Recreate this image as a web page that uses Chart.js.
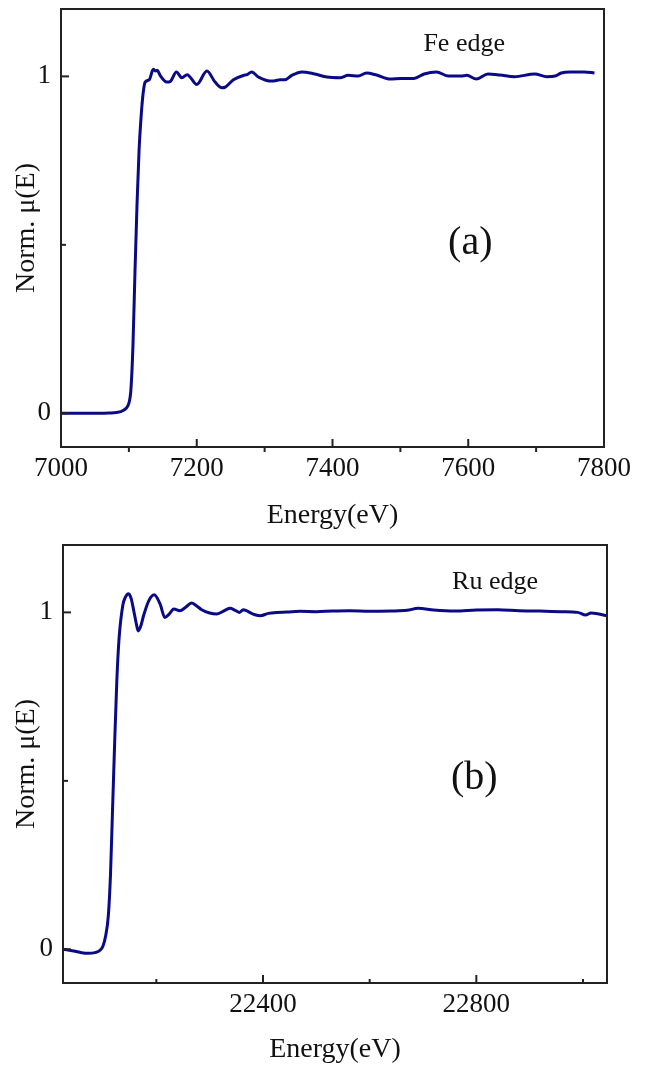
<!DOCTYPE html>
<html>
<head>
<meta charset="utf-8">
<script src="https://cdn.jsdelivr.net/npm/chart.js@4.4.1/dist/chart.umd.min.js"></script>
<style>
    body { margin: 0; background: #fff; }
    .panel { position: absolute; left: 0; }
</style>
</head>
<body>
<div class="panel" style="top:0"><canvas id="chartFe" width="647" height="530"></canvas></div>
<div class="panel" style="top:530px"><canvas id="chartRu" width="647" height="537"></canvas></div>
<script>
// Fe K-edge spectrum
const feEnergy = [7000, 7040, 7070, 7088, 7096, 7100, 7103, 7106, 7109, 7112, 7115, 7118, 7121,
    7124, 7130, 7136, 7139, 7142, 7146, 7156, 7161, 7170, 7178, 7186, 7191, 7200, 7215, 7227, 7237,
    7242, 7254, 7269, 7274, 7281, 7291, 7311, 7323, 7330, 7340, 7355, 7372, 7392, 7411, 7423, 7438,
    7450, 7465, 7485, 7501, 7520, 7535, 7553, 7571, 7589, 7598, 7612, 7629, 7647, 7668, 7698, 7716,
    7728, 7737, 7750, 7771, 7786];
const feMu = [0, 0, 0.001, 0.005, 0.015, 0.03, 0.07, 0.2, 0.42, 0.62, 0.78, 0.88, 0.95,
    0.983, 0.990, 1.021, 1.016, 1.018, 1.003, 0.983, 0.985, 1.013, 0.996, 1.005, 0.996, 0.976, 1.016, 0.983, 0.966,
    0.968, 0.990, 1.003, 1.005, 1.013, 0.998, 0.986, 0.990, 0.990, 1.003, 1.013, 1.008, 0.998, 0.996, 1.003, 1.001,
    1.010, 1.004, 0.992, 0.994, 0.994, 1.007, 1.013, 1.001, 1.001, 1.003, 0.992, 1.007, 1.004, 0.999, 1.007, 0.999,
    1.001, 1.010, 1.013, 1.013, 1.010];

// Ru K-edge spectrum
const ruEnergy = [22025, 22045, 22060, 22072, 22085, 22095, 22100, 22105, 22110, 22114, 22118, 22122,
    22126, 22130, 22137, 22142, 22148, 22153, 22157, 22162, 22166, 22171, 22176, 22186, 22196, 22207,
    22216, 22224, 22233, 22244, 22255, 22266, 22275, 22285, 22300, 22313, 22325, 22338, 22348, 22356,
    22363, 22369, 22375, 22385, 22395, 22410, 22425, 22445, 22469, 22500, 22530, 22562, 22600, 22640,
    22670, 22691, 22720, 22760, 22800, 22840, 22880, 22920, 22960, 22990, 23005, 23015, 23030, 23045];
const ruMu = [0, -0.005, -0.01, -0.012, -0.01, -0.002, 0.01, 0.04, 0.1, 0.22, 0.42, 0.62,
    0.8, 0.92, 1.02, 1.045, 1.055, 1.04, 1.01, 0.97, 0.945, 0.96, 0.99, 1.035, 1.052, 1.025,
    0.985, 0.995, 1.01, 1.005, 1.015, 1.028, 1.02, 1.008, 0.998, 0.995, 1.003, 1.012, 1.006, 1.0,
    1.008, 1.005, 1.0, 0.993, 0.99, 0.997, 1.0, 1.001, 1.003, 1.002, 1.004, 1.005, 1.003, 1.004,
    1.006, 1.012, 1.007, 1.004, 1.007, 1.008, 1.005, 1.004, 1.002, 1.0, 0.992, 0.998, 0.995, 0.99];

// tick values
const yLabelTicks = [0, 1];
const yMinorTicks = [0.5];
const feMajorTicks = [7000, 7200, 7400, 7600, 7800];
const feMinorTicks = [7100, 7300, 7500, 7700];
const ruMajorTicks = [22400, 22800];
const ruMinorTicks = [22200, 22600, 23000];

const LINE_COLOR = '#0a0a86';
const AXIS_COLOR = '#222';
const FONT = "'Liberation Serif', 'Times New Roman', serif";

// frame, inward/outward tick marks and the text notes
const framePlugin = {
    id: 'frame',
    afterDraw(chart, args, opts) {
        const { ctx, chartArea: a, scales } = chart;
        ctx.save();
        ctx.strokeStyle = AXIS_COLOR;
        ctx.lineWidth = 2;
        ctx.strokeRect(a.left, a.top, a.right - a.left, a.bottom - a.top);

        const tick = (x1, y1, x2, y2) => {
            ctx.beginPath();
            ctx.moveTo(x1, y1);
            ctx.lineTo(x2, y2);
            ctx.stroke();
        };
        opts.xMajor.forEach(v => {
            const x = scales.x.getPixelForValue(v);
            tick(x, a.bottom, x, a.bottom - 8);
        });
        opts.xMinor.forEach(v => {
            const x = scales.x.getPixelForValue(v);
            const dir = opts.minorOut ? 5 : -4;
            tick(x, a.bottom, x, a.bottom + dir);
        });
        yLabelTicks.forEach(v => {
            const y = scales.y.getPixelForValue(v);
            tick(a.left, y, a.left + 8, y);
        });
        yMinorTicks.forEach(v => {
            const y = scales.y.getPixelForValue(v);
            tick(a.left, y, a.left + 5, y);
        });

        ctx.fillStyle = '#111';
        ctx.textAlign = 'center';
        ctx.textBaseline = 'middle';
        opts.notes.forEach(n => {
            ctx.font = n.size + 'px ' + FONT;
            ctx.fillText(n.text, scales.x.getPixelForValue(n.x), scales.y.getPixelForValue(n.y));
        });
        ctx.restore();
    }
};

function makeChart(id, energy, mu, cfg) {
    const ctx = document.getElementById(id).getContext('2d');
    return new Chart(ctx, {
        type: 'line',
        data: {
            datasets: [{
                data: energy.map((e, i) => ({ x: e, y: mu[i] })),
                borderColor: LINE_COLOR,
                borderWidth: 3,
                pointRadius: 0,
                cubicInterpolationMode: 'monotone',
                fill: false
            }]
        },
        options: {
            responsive: false,
            animation: false,
            layout: { padding: cfg.padding },
            scales: {
                x: {
                    type: 'linear',
                    min: cfg.xMin,
                    max: cfg.xMax,
                    afterFit: s => {
                        s.height = cfg.xHeight;
                        s.paddingLeft = 0;
                        s.paddingRight = 0;
                    },
                    afterBuildTicks: s => { s.ticks = cfg.xMajor.map(v => ({ value: v })); },
                    grid: { display: false, drawTicks: false },
                    border: { display: false },
                    ticks: {
                        padding: 8,
                        color: '#111',
                        font: { family: FONT, size: 27, lineHeight: 1 },
                        callback: v => String(v)
                    },
                    title: {
                        display: true,
                        text: 'Energy(eV)',
                        color: '#111',
                        font: { family: FONT, size: 28, lineHeight: 1 },
                        padding: { top: 0, bottom: cfg.xTitlePad }
                    }
                },
                y: {
                    min: -0.1,
                    max: 1.2,
                    afterFit: s => {
                        s.width = cfg.yWidth;
                        s.paddingTop = 0;
                        s.paddingBottom = 0;
                    },
                    afterBuildTicks: s => { s.ticks = yLabelTicks.map(v => ({ value: v })); },
                    grid: { display: false, drawTicks: false },
                    border: { display: false },
                    ticks: {
                        padding: 10,
                        color: '#111',
                        font: { family: FONT, size: 27, lineHeight: 1 },
                        callback: v => String(v)
                    },
                    title: {
                        display: true,
                        text: 'Norm. μ(E)',
                        color: '#111',
                        font: { family: FONT, size: 28, lineHeight: 1 },
                        padding: { top: 13, bottom: 0 }
                    }
                }
            },
            plugins: {
                legend: { display: false },
                tooltip: { enabled: false },
                frame: {
                    xMajor: cfg.xMajor,
                    xMinor: cfg.xMinor,
                    minorOut: cfg.minorOut,
                    notes: cfg.notes
                }
            }
        },
        plugins: [framePlugin]
    });
}

makeChart('chartFe', feEnergy, feMu, {
    padding: { top: 9, right: 43, left: 0, bottom: 0 },
    xMin: 7000, xMax: 7800,
    xHeight: 83, yWidth: 61, xTitlePad: 0,
    xMajor: feMajorTicks, xMinor: feMinorTicks,
    minorOut: true,
    notes: [
        { text: 'Fe edge', x: 7594, y: 1.095, size: 26 },
        { text: '(a)', x: 7603, y: 0.504, size: 40 }
    ]
});

makeChart('chartRu', ruEnergy, ruMu, {
    padding: { top: 15, right: 40, left: 0, bottom: 0 },
    xMin: 22025, xMax: 23045,
    xHeight: 84, yWidth: 63, xTitlePad: 3,
    xMajor: ruMajorTicks, xMinor: ruMinorTicks,
    minorOut: false,
    notes: [
        { text: 'Ru edge', x: 22835, y: 1.09, size: 26 },
        { text: '(b)', x: 22796, y: 0.508, size: 40 }
    ]
});
</script>
</body>
</html>
